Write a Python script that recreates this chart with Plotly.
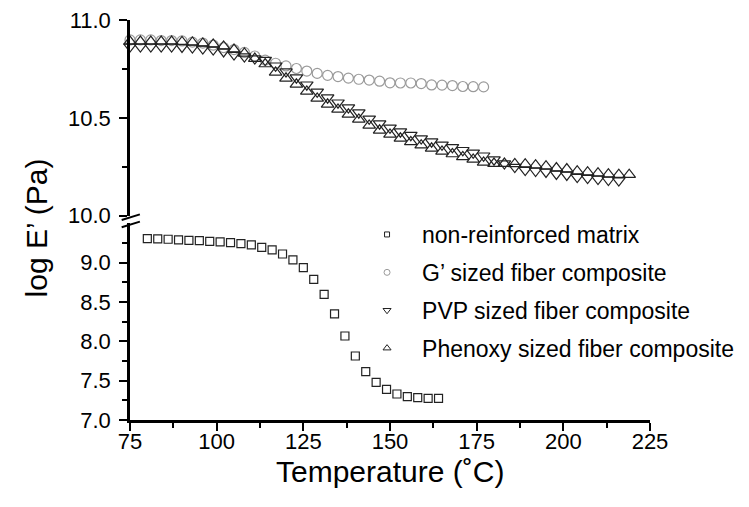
import plotly.graph_objects as go

# ---------------- data ----------------
matrix_T = [80, 83, 86, 89, 92, 95, 98, 101, 104, 107, 110, 113, 116, 119, 122,
            125, 128, 131, 134, 137, 140, 143, 146, 149, 152, 155, 158, 161, 164]
matrix_E = [9.304, 9.300, 9.296, 9.287, 9.283, 9.279, 9.270, 9.262, 9.253, 9.240,
            9.224, 9.194, 9.160, 9.109, 9.033, 8.936, 8.787, 8.597, 8.347, 8.067,
            7.813, 7.614, 7.479, 7.390, 7.330, 7.296, 7.284, 7.275, 7.275]

gsized_T = [75, 78, 81, 84, 87, 90, 93, 96, 99, 102, 105, 108, 111, 114, 117, 120,
            123, 126, 129, 132, 135, 138, 141, 144, 147, 150, 153, 156, 159, 162,
            165, 168, 171, 174, 177]
gsized_E = [10.898, 10.898, 10.898, 10.895, 10.895, 10.893, 10.887, 10.882, 10.872,
            10.859, 10.849, 10.834, 10.816, 10.795, 10.779, 10.765, 10.752, 10.739,
            10.727, 10.717, 10.711, 10.703, 10.697, 10.693, 10.687, 10.679, 10.678,
            10.678, 10.675, 10.668, 10.667, 10.665, 10.660, 10.659, 10.658]

pvp_T = [75, 78, 81, 84, 87, 90, 93, 96, 99, 102, 105, 108, 111, 114, 117, 120,
         123, 126, 129, 132, 135, 138, 141, 144, 147, 150, 153, 156, 159, 162,
         165, 168, 171, 174, 177, 180, 183, 186, 189, 192, 195, 198, 201, 204,
         207, 210, 213, 216]
pvp_E = [10.864, 10.864, 10.864, 10.864, 10.864, 10.862, 10.859, 10.854, 10.849,
         10.839, 10.823, 10.813, 10.803, 10.795, 10.766, 10.736, 10.705, 10.669,
         10.633, 10.603, 10.577, 10.552, 10.526, 10.495, 10.470, 10.449, 10.429,
         10.411, 10.394, 10.378, 10.362, 10.349, 10.334, 10.321, 10.306, 10.286,
         10.266, 10.248, 10.233, 10.228, 10.223, 10.213, 10.208, 10.197, 10.192,
         10.187, 10.182, 10.179]

phenoxy_T = pvp_T + [219]
phenoxy_E = [10.890, 10.890, 10.890, 10.890, 10.890, 10.888, 10.885, 10.880, 10.875,
             10.865, 10.849, 10.829, 10.803, 10.775, 10.732, 10.702, 10.671, 10.635,
             10.599, 10.569, 10.543, 10.518, 10.492, 10.461, 10.436, 10.415, 10.395,
             10.377, 10.360, 10.344, 10.328, 10.315, 10.300, 10.287, 10.272, 10.266,
             10.266, 10.264, 10.263, 10.258, 10.253, 10.243, 10.238, 10.227, 10.222,
             10.217, 10.212, 10.209, 10.209]

names = ["non-reinforced matrix", "G’ sized fiber composite",
         "PVP sized fiber composite", "Phenoxy sized fiber composite"]

x_ticks = [75, 100, 125, 150, 175, 200, 225]
x_minor = [87.5, 112.5, 137.5, 162.5, 187.5, 212.5]
low_ticks = [7.0, 7.5, 8.0, 8.5, 9.0]
low_minor = [7.25, 7.75, 8.25, 8.75, 9.25]
up_ticks = [10.0, 10.5, 11.0]
up_minor = [10.25, 10.75]

# ---------------- figure ----------------
FONT = "Liberation Sans, Arial, Helvetica, sans-serif"
DARK = "#222222"
GREY = "#9a9a9a"

fig = go.Figure()

styles = [
    dict(symbol="square-open", color=DARK, size=8, lsize=5),
    dict(symbol="circle-open", color=GREY, size=10, lsize=6),
    dict(symbol="triangle-down-open", color=DARK, size=11, lsize=7),
    dict(symbol="triangle-up-open", color=DARK, size=11, lsize=7),
]
series = [(matrix_T, matrix_E, "y"), (gsized_T, gsized_E, "y2"),
          (pvp_T, pvp_E, "y2"), (phenoxy_T, phenoxy_E, "y2")]

for (xs, ys, ax), st, nm in zip(series, styles, names):
    fig.add_trace(go.Scatter(
        x=xs, y=ys, mode="markers", yaxis=ax, showlegend=False, cliponaxis=False,
        marker=dict(symbol=st["symbol"], color=st["color"], size=st["size"],
                    line=dict(width=1.2, color=st["color"])),
        hoverinfo="x+y", name=nm))

# legend entries with small markers
for i, (st, nm) in enumerate(zip(styles, names)):
    fig.add_trace(go.Scatter(
        x=[None], y=[None], mode="markers", name=nm, legendgroup=f"g{i}",
        marker=dict(symbol=st["symbol"], color=st["color"], size=st["lsize"],
                    line=dict(width=1, color=st["color"]))))

axis_common = dict(
    showline=True, linewidth=2.5, linecolor="black", ticks="outside",
    ticklen=8, tickwidth=2, tickcolor="black", showgrid=False, zeroline=False,
    tickfont=dict(family=FONT, size=22, color="black"), mirror=False,
    automargin=False, ticklabeloverflow="allow",
)

fig.update_layout(
    width=749, height=507,
    margin=dict(l=122, r=107, t=12, b=95),
    paper_bgcolor="white", plot_bgcolor="white",
    font=dict(family=FONT, color="black"),
    xaxis=dict(
        range=[75, 225], tickmode="array", tickvals=x_ticks,
        ticktext=[str(v) for v in x_ticks], anchor="y",
        minor=dict(tickmode="array", tickvals=x_minor, ticks="outside",
                   ticklen=5, tickwidth=2, tickcolor="black"),
        ticklabelstandoff=-8,
        **axis_common),
    yaxis=dict(
        domain=[0, 0.492], range=[7.0, 9.5], tickmode="array",
        tickvals=low_ticks, ticktext=[f"{v:.1f}" for v in low_ticks],
        anchor="x", ticklabelstandoff=4,
        minor=dict(tickmode="array", tickvals=low_minor, ticks="outside",
                   ticklen=5, tickwidth=2, tickcolor="black"),
        **axis_common),
    yaxis2=dict(
        domain=[0.511, 1.0], range=[10.0, 11.0], tickmode="array",
        tickvals=up_ticks, ticktext=[f"{v:.1f}" for v in up_ticks],
        anchor="x", ticklabelstandoff=4,
        minor=dict(tickmode="array", tickvals=up_minor, ticks="outside",
                   ticklen=5, tickwidth=2, tickcolor="black"),
        **axis_common),
    legend=dict(
        x=0.427, y=0.5175, xanchor="left", yanchor="top",
        bgcolor="rgba(0,0,0,0)", borderwidth=0,
        font=dict(family=FONT, size=23, color="black"),
        tracegroupgap=5, traceorder="grouped", itemwidth=60,
    ),
    annotations=[
        dict(text="log E’ (Pa)", xref="paper", yref="paper", x=-0.18, y=0.48,
             xanchor="center", yanchor="middle", textangle=-90, showarrow=False,
             font=dict(family=FONT, size=30, color="black")),
        dict(text="Temperature (˚C)", xref="paper", yref="paper", x=0.5,
             y=-0.128, xanchor="center", yanchor="middle", showarrow=False,
             font=dict(family=FONT, size=30, color="black")),
    ],
    shapes=[
        dict(type="line", xref="paper", yref="paper", x0=-0.016, y0=0.500,
             x1=0.019, y1=0.514, line=dict(color="black", width=2)),
        dict(type="line", xref="paper", yref="paper", x0=-0.016, y0=0.482,
             x1=0.019, y1=0.496, line=dict(color="black", width=2)),
    ],
)

fig.write_html("out.html")
